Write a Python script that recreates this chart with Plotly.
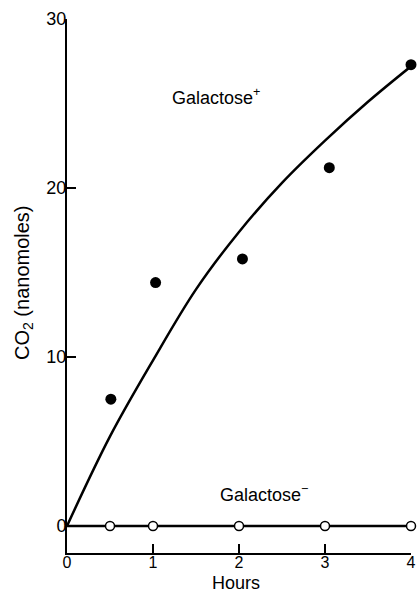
import plotly.graph_objects as go

# Data
plus_x = [0.51, 1.03, 2.04, 3.05, 4.0]
plus_y = [7.5, 14.4, 15.8, 21.2, 27.3]

curve_x = [0, 0.5, 1.0, 1.5, 2.0, 2.5, 3.0, 3.5, 4.0]
curve_y = [0, 5.3, 9.8, 14.0, 17.4, 20.3, 22.8, 25.1, 27.2]

minus_x = [0, 0.5, 1.0, 2.0, 3.0, 4.0]
minus_y = [0, 0, 0, 0, 0, 0]

x_ticks = [0, 1, 2, 3, 4]
y_ticks = [0, 10, 20, 30]

FONT = "Liberation Sans"
W, H = 417, 592
ML, MR, MT, MB = 67, 6, 19, 39

fig = go.Figure()

fig.add_trace(go.Scatter(
    x=curve_x, y=curve_y, mode="lines",
    line=dict(color="black", width=2.5, shape="spline", smoothing=1.0),
    hoverinfo="skip", cliponaxis=False))

fig.add_trace(go.Scatter(
    x=minus_x, y=minus_y, mode="lines",
    line=dict(color="black", width=2.5),
    hoverinfo="skip", cliponaxis=False))

fig.add_trace(go.Scatter(
    x=minus_x[1:], y=minus_y[1:], mode="markers",
    marker=dict(symbol="circle", size=9, color="white",
                line=dict(color="black", width=1.5)),
    cliponaxis=False))

fig.add_trace(go.Scatter(
    x=plus_x, y=plus_y, mode="markers",
    marker=dict(symbol="circle", size=11, color="black"),
    cliponaxis=False))

fig.add_annotation(x=1.2, y=25.4, xanchor="left", yanchor="middle",
                   text="Galactose<sup>+</sup>", showarrow=False,
                   font=dict(family=FONT, size=18, color="black"))
fig.add_annotation(x=1.76, y=1.95, xanchor="left", yanchor="middle",
                   text="Galactose<sup>−</sup>", showarrow=False,
                   font=dict(family=FONT, size=18, color="black"))

# axis titles placed in paper coordinates
pw = W - ML - MR
ph = H - MT - MB
fig.add_annotation(xref="paper", yref="paper",
                   x=(236 - ML) / pw, y=(H - MB - 594) / ph,
                   xanchor="center", yanchor="bottom", showarrow=False, borderpad=0,
                   text="Hours", font=dict(family=FONT, size=18, color="black"))
fig.add_annotation(xref="paper", yref="paper",
                   x=(23 - ML) / pw, y=(H - MB - 283) / ph,
                   xanchor="center", yanchor="middle", showarrow=False, textangle=-90,
                   text="CO<sub>2</sub> (nanomoles)",
                   font=dict(family=FONT, size=20, color="black"))

fig.update_layout(
    width=W, height=H,
    margin=dict(l=ML, r=MR, t=MT, b=MB, autoexpand=False),
    paper_bgcolor="white", plot_bgcolor="white",
    showlegend=False,
    font=dict(family=FONT, size=18, color="black"),
    xaxis=dict(
        range=[0, 4], tickvals=x_ticks, ticktext=[str(v) for v in x_ticks],
        showline=True, linecolor="black", linewidth=2,
        ticks="inside", ticklen=9, tickwidth=2, tickcolor="black",
        showgrid=False, zeroline=False, automargin=False,
        tickfont=dict(size=16), ticklabelstandoff=-6,
    ),
    yaxis=dict(
        range=[-1.6, 30], tickvals=y_ticks, ticktext=[str(v) for v in y_ticks],
        showline=True, linecolor="black", linewidth=2,
        ticks="inside", ticklen=9, tickwidth=2, tickcolor="black",
        showgrid=False, zeroline=False, automargin=False,
        tickfont=dict(size=18), ticklabelstandoff=-5,
    ),
)

fig.write_html("out.html")
